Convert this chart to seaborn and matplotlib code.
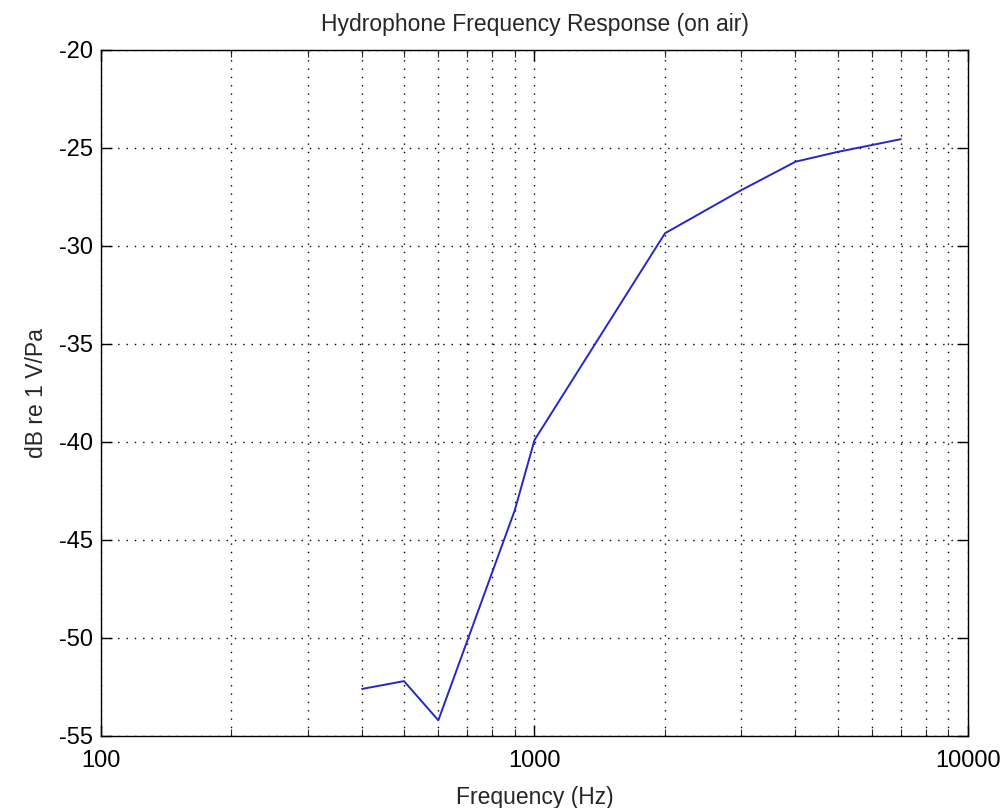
import matplotlib
matplotlib.use("Agg")
import matplotlib.pyplot as plt
import matplotlib.ticker as mticker
import seaborn as sns
import pandas as pd

freq_hz = [400, 500, 600, 900, 1000, 2000, 3000, 4000, 5000, 6000, 7000]
response_db = [-52.6, -52.2, -54.2, -43.5, -39.9, -29.35, -27.15, -25.7, -25.2, -24.85, -24.55]
y_ticks = [-55, -50, -45, -40, -35, -30, -25, -20]
x_ticks = [100, 1000, 10000]

title = "Hydrophone Frequency Response (on air)"
xlabel = "Frequency (Hz)"
ylabel = "dB re 1 V/Pa"

sns.set_style("white")
plt.rcParams["font.family"] = ["Liberation Sans", "DejaVu Sans"]

df = pd.DataFrame({"f": freq_hz, "db": response_db})

fig = plt.figure(figsize=(10.03, 8.08), dpi=100)
ax = fig.add_axes([101 / 1003, 72 / 808, 867 / 1003, 686 / 808])

sns.lineplot(data=df, x="f", y="db", ax=ax, color="#2626cc", linewidth=1.4,
             sort=False, estimator=None)

ax.set_xscale("log")
ax.set_xlim(100, 10000)
ax.set_ylim(-55, -20)
ax.set_yticks(y_ticks)
ax.set_xticks(x_ticks)
ax.xaxis.set_major_formatter(mticker.FuncFormatter(lambda v, p: f"{int(round(v))}"))
ax.xaxis.set_minor_locator(mticker.LogLocator(base=10, subs=range(2, 10)))
ax.xaxis.set_minor_formatter(mticker.NullFormatter())
ax.set_yticklabels([str(v) for v in y_ticks])

grid_style = dict(color="black", linewidth=1.0, linestyle=(0, (1, 5)))
ax.grid(True, which="major", axis="both", **grid_style)
ax.grid(True, which="minor", axis="x", **grid_style)

for s in ax.spines.values():
    s.set_visible(True)
    s.set_color("black")
    s.set_linewidth(1.0)

ax.tick_params(which="major", direction="in", length=8, width=1.0,
               top=True, right=True, bottom=True, left=True,
               labelsize=17, colors="black")
ax.tick_params(axis="x", which="major", pad=10)
ax.tick_params(axis="y", which="major", pad=6)
ax.tick_params(which="minor", direction="in", length=5, width=0.8,
               top=True, bottom=True)

ax.set_title(title, fontsize=16.5, pad=14)
ax.set_xlabel(xlabel, fontsize=16.5, labelpad=10)
ax.set_ylabel(ylabel, fontsize=16.5, labelpad=8)

fig.savefig("out.png", dpi=100, facecolor="white")
